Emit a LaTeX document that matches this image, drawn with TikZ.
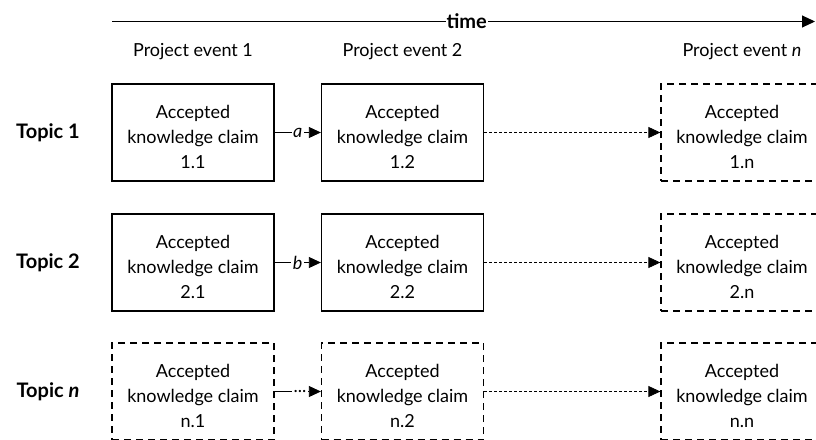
\documentclass[tikz,border=0pt]{standalone}
\usepackage{fontspec}
\setmainfont{Lato}
\usetikzlibrary{arrows.meta}
% tall strut that lowers the three text lines inside a claim box
\newcommand\claimtop{\rule{0pt}{23pt}}
\begin{document}
\begin{tikzpicture}[x=1pt,y=-1pt,
  txt/.style={font=\fontsize{18}{25}\selectfont},
  claim/.style={txt, draw, line width=1.3pt, minimum width=162pt, minimum height=97pt,
    inner sep=0pt, align=center},
  openclaim/.style={claim, dash pattern=on 7pt off 5pt},
  tip/.style={-{Triangle[length=12pt,width=11pt]}},
  link/.style={line width=0.8pt, tip},
  openlink/.style={link, dash pattern=on 3pt off 2pt},
  linklabel/.style={txt, fill=white, inner sep=1.5pt},
  header/.style={txt},
  topic/.style={font=\fontsize{20}{24}\selectfont\bfseries},
  timeline/.style={line width=1pt, -{Triangle[length=13pt,width=12pt]}}]
\useasboundingbox (0,0) rectangle (816,439);

% time axis
\coordinate (t0) at (112,21.5);
\coordinate (t1) at (815,21.5);
\draw[timeline] (t0) -- node[pos=0.5045, fill=white, inner sep=1pt, topic] {time} (t1);

% column headers
\node[header] (h1) at (193,52) {Project event 1};
\node[header] (h2) at (402.5,52) {Project event 2};
\node[header] (h3) at (742,52) {Project event \textit{n}};

% row labels
\node[topic] (r1) at (48,132.5) {Topic 1};
\node[topic] (r2) at (48,262.5) {Topic 2};
\node[topic] (r3) at (48,391.5) {Topic \textit{n}};

% topic 1
\node[claim] (c11) at (193,132.5) {\claimtop Accepted\\knowledge claim\\1.1};
\node[claim] (c12) at (402.5,132.5) {\claimtop Accepted\\knowledge claim\\1.2};
\node[openclaim] (c1n) at (742,132.5) {\claimtop Accepted\\knowledge claim\\1.n};

% topic 2
\node[claim] (c21) at (193,262.5) {\claimtop Accepted\\knowledge claim\\2.1};
\node[claim] (c22) at (402.5,262.5) {\claimtop Accepted\\knowledge claim\\2.2};
\node[openclaim] (c2n) at (742,262.5) {\claimtop Accepted\\knowledge claim\\2.n};

% topic n
\node[openclaim] (cn1) at (193,391.5) {\claimtop Accepted\\knowledge claim\\n.1};
\node[openclaim] (cn2) at (402.5,391.5) {\claimtop Accepted\\knowledge claim\\n.2};
\node[openclaim] (cnn) at (742,391.5) {\claimtop Accepted\\knowledge claim\\n.n};

% transitions
\draw[link] (c11) -- node[linklabel] {\textit{a}} (c12);
\draw[link] (c21) -- node[linklabel] {\textit{b}} (c22);
\draw[link] (cn1) -- node[linklabel, pos=0.55] {...} (cn2);
\draw[openlink] (c12) -- (c1n);
\draw[openlink] (c22) -- (c2n);
\draw[openlink] (cn2) -- (cnn);
\end{tikzpicture}
\end{document}
